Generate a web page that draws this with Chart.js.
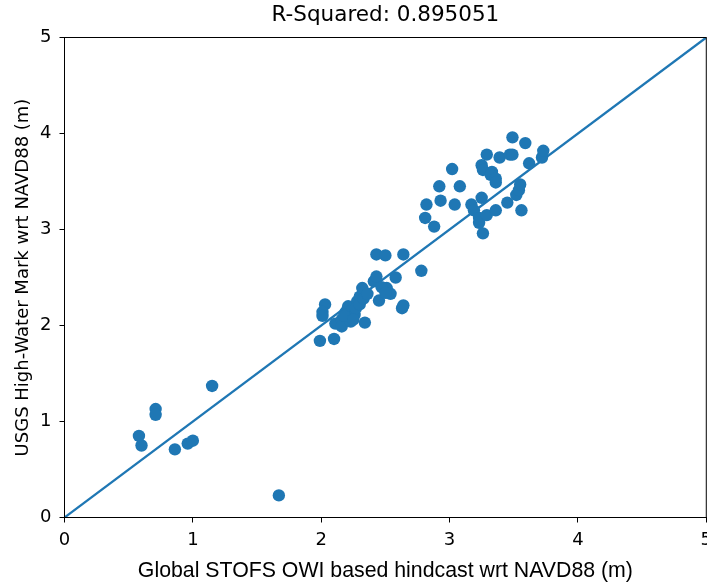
<!DOCTYPE html>
<html>
<head>
<meta charset="utf-8">
<script src="https://cdn.jsdelivr.net/npm/chart.js@4.4.1/dist/chart.umd.min.js"></script>
<style>
  html, body { margin: 0; padding: 0; background: #fff; overflow: hidden; }
  #wrap { width: 707px; height: 582px; overflow: hidden; }
  #hwm-chart { display: block; }
</style>
</head>
<body>
<div id="wrap"><canvas id="hwm-chart" width="719" height="582"></canvas></div>
<script>
// hindcast (x) vs observed high-water mark (y), metres
const stofs = [
  0.58, 0.60, 0.71, 0.71, 0.86, 0.96, 1.00, 1.15, 1.67,
  1.99, 2.10, 2.03, 2.01, 2.01, 2.11, 2.16, 2.16, 2.20, 2.19, 2.21, 2.24, 2.26, 2.23,
  2.28, 2.30, 2.32, 2.34, 2.41, 2.43, 2.45, 2.51, 2.54, 2.58, 2.63, 2.64,
  2.43, 2.50, 2.64, 2.78, 2.27, 2.30, 2.33, 2.18, 2.25, 2.47, 2.50, 2.36,
  2.81, 2.82, 2.88, 2.92, 2.93, 3.02, 3.04, 3.08, 3.17, 3.19, 3.23, 3.23, 3.26, 3.25,
  3.25, 3.26, 3.29, 3.29, 3.33, 3.32, 3.36, 3.36, 3.36, 3.39, 3.45, 3.47, 3.49, 3.49,
  3.52, 3.54, 3.55, 3.56, 3.59, 3.62, 3.72, 3.73
];
const hwm = [
  0.85, 0.75, 1.13, 1.07, 0.71, 0.77, 0.80, 1.37, 0.23,
  1.84, 1.86, 2.22, 2.14, 2.10, 2.02, 2.06, 1.99, 2.08, 2.14, 2.20, 2.16, 2.11, 2.04,
  2.25, 2.30, 2.39, 2.03, 2.46, 2.51, 2.26, 2.39, 2.33, 2.50, 2.18, 2.21,
  2.74, 2.73, 2.74, 2.57, 2.18, 2.22, 2.28, 2.10, 2.06, 2.40, 2.34, 2.33,
  3.12, 3.26, 3.03, 3.45, 3.30, 3.63, 3.26, 3.45, 3.26, 3.20, 3.12, 3.07, 2.96, 3.33,
  3.67, 3.62, 3.78, 3.15, 3.60, 3.57, 3.53, 3.49, 3.20, 3.75, 3.28, 3.78, 3.78, 3.96,
  3.36, 3.41, 3.47, 3.20, 3.90, 3.69, 3.75, 3.82
];
const oneToOne = [0, 5];
const rSquared = '0.895051';

const blue = '#1f77b4';

const spines = {
  id: 'spines',
  afterDraw(chart) {
    const {ctx, chartArea: a} = chart;
    ctx.save();
    ctx.strokeStyle = '#000';
    ctx.lineWidth = 1;
    ctx.strokeRect(a.left, a.top, a.right - a.left, a.bottom - a.top);
    ctx.restore();
  }
};

new Chart(document.getElementById('hwm-chart'), {
  type: 'scatter',
  data: {
    datasets: [
      {
        type: 'line',
        data: oneToOne.map(v => ({x: v, y: v})),
        borderColor: blue,
        borderWidth: 2.3,
        pointRadius: 0,
        order: 2
      },
      {
        data: stofs.map((x, i) => ({x, y: hwm[i]})),
        backgroundColor: blue,
        borderWidth: 0,
        pointRadius: 6.2,
        order: 1
      }
    ]
  },
  options: {
    responsive: false,
    animation: false,
    layout: {padding: 0},
    plugins: {
      legend: {display: false},
      tooltip: {enabled: false}
    },
    scales: {
      x: {
        type: 'linear', min: 0, max: 5,
        ticks: {stepSize: 1, color: '#000', padding: 7, font: {family: 'DejaVu Sans', size: 18}},
        grid: {display: true, drawOnChartArea: false, drawTicks: true, tickLength: 5, color: '#000'},
        border: {display: true, color: '#000', width: 1},
        title: {
          display: true,
          text: 'Global STOFS OWI based hindcast wrt NAVD88 (m)',
          color: '#000',
          font: {family: 'Liberation Sans', size: 21.3, lineHeight: 1},
          padding: {top: 0, bottom: 0.5}
        },
        afterFit(s) { s.height = 64.5; }
      },
      // top axis only carries the plot title, centred over the plot area
      x2: {
        type: 'linear', position: 'top', min: 0, max: 5,
        ticks: {display: false},
        grid: {display: false},
        border: {display: false},
        title: {
          display: true,
          text: 'R-Squared: ' + rSquared,
          color: '#000',
          font: {family: 'DejaVu Sans', size: 21.5, lineHeight: 1.2},
          padding: {top: 3, bottom: 0}
        },
        afterFit(s) { s.height = 37.5; }
      },
      y: {
        type: 'linear', min: 0, max: 5,
        ticks: {stepSize: 1, color: '#000', padding: 8, font: {family: 'DejaVu Sans', size: 18}},
        grid: {display: true, drawOnChartArea: false, drawTicks: true, tickLength: 5, color: '#000'},
        border: {display: true, color: '#000', width: 1},
        title: {
          display: true,
          text: 'USGS High-Water Mark wrt NAVD88 (m)',
          color: '#000',
          font: {family: 'DejaVu Sans', size: 18, lineHeight: 1.2},
          padding: {top: 13, bottom: 0}
        },
        afterFit(s) { s.width = 64.5; }
      }
    }
  },
  plugins: [spines]
});
</script>
</body>
</html>
